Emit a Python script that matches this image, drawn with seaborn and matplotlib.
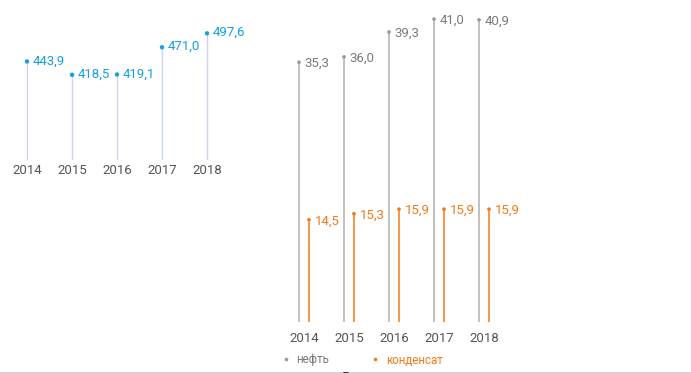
import numpy as np
import pandas as pd
import matplotlib.pyplot as plt
import seaborn as sns
from matplotlib.lines import Line2D

sns.set_style("white")
plt.rcParams['font.family'] = ['Roboto', 'DejaVu Sans']

years = ["2014", "2015", "2016", "2017", "2018"]
total = [443.9, 418.5, 419.1, 471.0, 497.6]
oil = [35.3, 36.0, 39.3, 41.0, 40.9]
condensate = [14.5, 15.3, 15.9, 15.9, 15.9]

blue = "#139fe6"
blue_stem = "#c8d5ec"
grey = "#9a9a9a"
grey_text = "#7a7a7a"
orange = "#f47a17"
year_col = "#555555"

W, H = 691, 373
fig = plt.figure(figsize=(W / 100, H / 100), dpi=100)

def px_axes(x0, y0, x1, y1):
    return fig.add_axes([x0 / W, 1 - y1 / H, (x1 - x0) / W, (y1 - y0) / H])

def fmt(v):
    return f"{v:.1f}".replace(".", ",")

# left chart
ax1 = px_axes(0, 20, 270, 160)
df1 = pd.DataFrame({"pos": np.arange(len(years)), "val": total})
ax1.vlines(df1["pos"], 256, df1["val"], color=blue_stem, lw=1)
sns.scatterplot(data=df1, x="pos", y="val", ax=ax1, color=blue, s=10,
                edgecolor="none", zorder=3)
for p, v in zip(df1["pos"], df1["val"]):
    ax1.annotate(fmt(v), (p, v), xytext=(4, 0.5), textcoords="offset points",
                 va="center", ha="left", color=blue, fontsize=9.5)
ax1.set_xlim(-0.6, 5.4)
ax1.set_ylim(256, 523)
ax1.set_xticks(df1["pos"], years)
ax1.tick_params(axis="x", length=0, pad=3, labelsize=9.5, labelcolor=year_col)
ax1.set_yticks([])
ax1.set_xlabel("")
ax1.set_ylabel("")
sns.despine(ax=ax1, left=True, bottom=True)

# right chart
ax2 = px_axes(270, 10, 691, 322)
pos = np.arange(len(years))
off = 0.111
df2 = pd.DataFrame({
    "pos": np.concatenate([pos - off, pos + off]),
    "val": oil + condensate,
    "kind": ["нефть"] * len(oil) + ["конденсат"] * len(condensate),
})
pal = {"нефть": grey, "конденсат": orange}
for kind, g in df2.groupby("kind"):
    ax2.vlines(g["pos"], 1, g["val"],
               color="#b0b0b0" if kind == "нефть" else orange, lw=1.1)
sns.scatterplot(data=df2, x="pos", y="val", hue="kind", palette=pal, ax=ax2,
                s=7, edgecolor="none", zorder=3, legend=False)
for _, r in df2.iterrows():
    c = grey_text if r["kind"] == "нефть" else orange
    ax2.annotate(fmt(r["val"]), (r["pos"], r["val"]), xytext=(4, -1),
                 textcoords="offset points", va="center", ha="left",
                 color=c, fontsize=9.5)
ax2.set_xlim(-0.756, 8.6)
ax2.set_ylim(1, 42.2)
ax2.set_xticks(pos, years)
ax2.tick_params(axis="x", length=0, pad=7, labelsize=9.5, labelcolor=year_col)
ax2.set_yticks([])
ax2.set_xlabel("")
ax2.set_ylabel("")
sns.despine(ax=ax2, left=True, bottom=True)

handles = [Line2D([], [], ls="none", marker="o", ms=2.6, color=grey, mec="none"),
           Line2D([], [], ls="none", marker="o", ms=2.6, color=orange, mec="none")]
leg = fig.legend(handles, ["нефть", "конденсат"], loc="center",
                 bbox_to_anchor=(362 / W, 1 - 360 / H), ncol=2, frameon=False,
                 fontsize=8.3, handletextpad=0.5, columnspacing=3.6,
                 handlelength=0.8)
for t, c in zip(leg.get_texts(), [grey_text, orange]):
    t.set_color(c)

fig.add_artist(Line2D([0, 1], [0.5 / H, 0.5 / H], color="#c5cfdd", lw=1.2,
                      transform=fig.transFigure))
fig.add_artist(Line2D([344 / W, 348 / W], [0.5 / H, 0.5 / H], color="#333333",
                      lw=1.4, transform=fig.transFigure))

fig.savefig("out.png", dpi=100)
